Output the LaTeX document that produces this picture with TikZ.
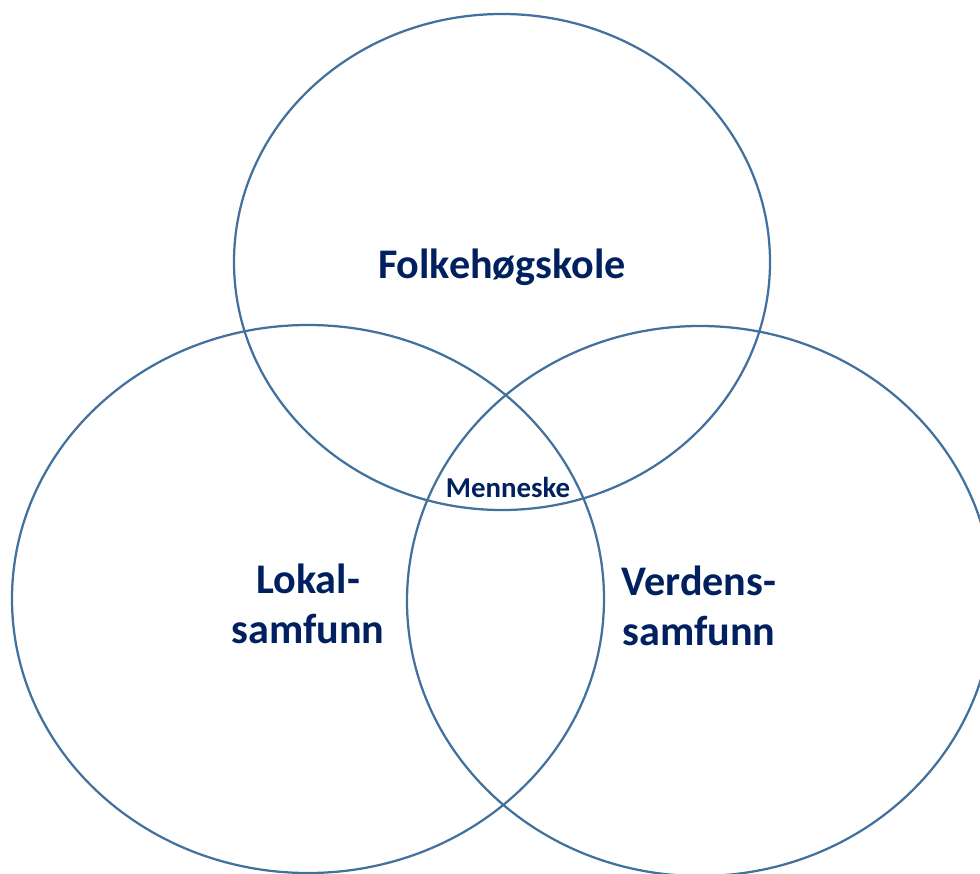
\documentclass[tikz,border=0pt]{standalone}
\usepackage{fontspec}
\setmainfont{Carlito}
\definecolor{ringblue}{RGB}{65,113,156}
\definecolor{navy}{RGB}{0,32,96}
\tikzset{
	ring/.style={draw=ringblue,line width=0.45mm},
	bigtext/.style={text=navy,font=\fontsize{24}{28.5}\selectfont\bfseries,align=center},
	smalltext/.style={text=navy,font=\fontsize{16.4}{19}\selectfont\bfseries,align=center}
}

\begin{document}
\begin{tikzpicture}[x=0.2mm,y=-0.2mm]
	\useasboundingbox (0,0) rectangle (980,873);
	\draw[ring] (502,262) ellipse [x radius=53.6mm,y radius=49.6mm];
	\draw[ring] (308,599) ellipse [x radius=59.2mm,y radius=54.8mm];
	\draw[ring] (700,601) ellipse [x radius=58.6mm,y radius=55mm];
	\node[bigtext] (skole) at (502,267) {Folkehøgskole};
	\node[bigtext] (lokal) at (308,604) {Lokal-\\samfunn};
	\node[bigtext] (verden) at (699,606) {Verdens-\\samfunn};
	\node[smalltext] (menneske) at (508,487) {Menneske};
\end{tikzpicture}
\end{document}
